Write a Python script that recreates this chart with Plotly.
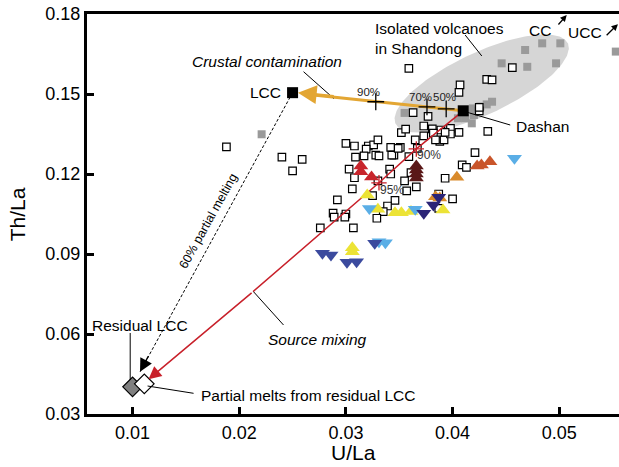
import numpy as np
import plotly.graph_objects as go

# ---------------- data ----------------
X_RANGE = [0.00573, 0.0556]
Y_RANGE = [0.03, 0.18]
X_TICKS = [0.01, 0.02, 0.03, 0.04, 0.05]
Y_TICKS = [0.03, 0.06, 0.09, 0.12, 0.15, 0.18]

open_u = [0.0359, 0.0456, 0.0432, 0.0437, 0.0407, 0.0406, 0.0363, 0.0377, 0.0425, 0.0425,
          0.0433, 0.0373, 0.0352, 0.0356, 0.0373, 0.0381, 0.0389, 0.0398, 0.0382, 0.0406,
          0.0388, 0.0392, 0.0398, 0.0384, 0.0421, 0.0342, 0.0351, 0.0345, 0.0300, 0.0308,
          0.0321, 0.0326, 0.0330, 0.0319, 0.0317, 0.0309, 0.0328, 0.0331, 0.0343, 0.0349,
          0.0359, 0.0367, 0.0365, 0.0303, 0.0341, 0.0342, 0.0308, 0.0330, 0.0355, 0.0306,
          0.0357, 0.0361, 0.0366, 0.0259, 0.0292, 0.0409, 0.0413, 0.0393, 0.0400, 0.0387,
          0.0387, 0.0346, 0.0339, 0.0335, 0.0329, 0.0325, 0.0288, 0.0289, 0.0300, 0.0299,
          0.0276, 0.0307, 0.0188, 0.0240, 0.0250, 0.0393]
open_th = [0.1596, 0.1599, 0.1555, 0.1553, 0.1534, 0.1506, 0.1430, 0.1416, 0.1437, 0.1450,
           0.1360, 0.1380, 0.1355, 0.1368, 0.1343, 0.1369, 0.1365, 0.1371, 0.1353, 0.1356,
           0.1322, 0.1328, 0.1350, 0.1328, 0.1280, 0.1300, 0.1300, 0.1271, 0.1315, 0.1305,
           0.1305, 0.1309, 0.1328, 0.1293, 0.1268, 0.1263, 0.1271, 0.1268, 0.1271, 0.1296,
           0.1265, 0.1296, 0.1328, 0.1218, 0.1218, 0.1200, 0.1186, 0.1174, 0.1174, 0.1144,
           0.1137, 0.1205, 0.1152, 0.1255, 0.1103, 0.1234, 0.1225, 0.1184, 0.1107, 0.1125,
           0.1071, 0.1101, 0.1080, 0.1059, 0.1034, 0.1119, 0.1053, 0.1038, 0.1050, 0.1038,
           0.0998, 0.0998, 0.1302, 0.1263, 0.1212, 0.1356]

gray_u = [0.0468, 0.0484, 0.0501, 0.0446, 0.0470, 0.0497, 0.0553, 0.0355, 0.0426, 0.0432,
          0.0437, 0.0419, 0.0420, 0.0412, 0.0405, 0.0418, 0.0221]
gray_th = [0.1665, 0.1690, 0.1690, 0.1615, 0.1602, 0.1615, 0.1659, 0.1429, 0.1453, 0.1461,
           0.1471, 0.1446, 0.1421, 0.1409, 0.1409, 0.1390, 0.1349]

red_up_u = [0.0314, 0.0314, 0.0324]
red_up_th = [0.1230, 0.1208, 0.1189]
maroon_up_u = [0.0366, 0.0366, 0.0366, 0.0366]
maroon_up_th = [0.1230, 0.1215, 0.1200, 0.1185]
sienna_up_u = [0.0423, 0.0427, 0.0435]
sienna_up_th = [0.1230, 0.1234, 0.1246]
orange_up_u = [0.0404, 0.0384, 0.0388]
orange_up_th = [0.1188, 0.1115, 0.1110]
yellow_up_u = [0.0320, 0.0330, 0.0346, 0.0352, 0.0361, 0.0391, 0.0306, 0.0306]
yellow_up_th = [0.1121, 0.1068, 0.1055, 0.1055, 0.1059, 0.1065, 0.0923, 0.0908]
lblue_dn_u = [0.0322, 0.0365, 0.0458, 0.0331, 0.0337]
lblue_dn_th = [0.1071, 0.1068, 0.1259, 0.0946, 0.0942]
navy_dn_u = [0.0373, 0.0382, 0.0387]
navy_dn_th = [0.1053, 0.1084, 0.1113]
blue_dn_u = [0.0327, 0.0278, 0.0286, 0.0301, 0.0310]
blue_dn_th = [0.0940, 0.0903, 0.0896, 0.0869, 0.0871]

LCC = (0.0250, 0.1505)
DASHAN = (0.0410, 0.1437)
RESIDUAL_LCC = (0.0100, 0.0402)
PARTIAL_MELT = (0.0111, 0.0413)

contam_u = [0.0328, 0.0376, 0.0394]     # 90 %, 70 %, 50 %
contam_th = [0.1471, 0.1452, 0.1444]
contam_lbl = ["90%", "70%", "50%"]
contam_lbl_u = [0.0321, 0.0370, 0.0392]
contam_lbl_th = [0.1508, 0.1488, 0.1488]

mix_u = [0.0410, 0.0366, 0.0331, 0.0257, 0.0213]
mix_th = [0.1437, 0.1294, 0.1167, 0.0909, 0.0759]
mix_tip = (0.0115, 0.0430)
mix_cross_u = [0.0366, 0.0331]
mix_cross_th = [0.1294, 0.1167]
mix_lbl = ["90%", "95%"]
mix_lbl_u = [0.0378, 0.0343]
mix_lbl_th = [0.1271, 0.1140]
melt_tip = (0.0107, 0.0458)

ELL_CENTER = (0.04273, 0.15394)

# ---------------- layout geometry ----------------
W, H = 619, 467
ML, MR, MT, MB = 87, 0, 14, 53
PW, PH = W - ML - MR, H - MT - MB
kx = PW / (X_RANGE[1] - X_RANGE[0])
ky = PH / (Y_RANGE[1] - Y_RANGE[0])

FONT = "Liberation Sans, Arial, Helvetica, sans-serif"
LBL = 15.5

fig = go.Figure()

# ellipse (semi axes in pixels, rotated)
t = np.linspace(0, 2 * np.pi, 200)
a_px, b_px, ang = 95, 31, np.deg2rad(25)
ex = a_px * np.cos(t) * np.cos(ang) - b_px * np.sin(t) * np.sin(ang)
ey = a_px * np.cos(t) * np.sin(ang) + b_px * np.sin(t) * np.cos(ang)
fig.add_trace(go.Scatter(x=ELL_CENTER[0] + ex / kx, y=ELL_CENTER[1] + ey / ky,
                         mode="lines", fill="toself", fillcolor="#d6d6d6",
                         line=dict(width=0), hoverinfo="skip"))

fig.add_trace(go.Scatter(x=gray_u, y=gray_th, mode="markers",
                         marker=dict(symbol="square", size=8, color="#9a9a9a", line=dict(width=0))))
fig.add_trace(go.Scatter(x=open_u, y=open_th, mode="markers",
                         marker=dict(symbol="square", size=7.5, color="white",
                                     line=dict(width=1.2, color="black"))))

# dashed partial melting line
fig.add_trace(go.Scatter(x=[LCC[0], melt_tip[0]], y=[LCC[1], melt_tip[1]], mode="lines",
                         line=dict(color="black", width=1, dash="3px,2px")))

# mixing curve
fig.add_trace(go.Scatter(x=mix_u, y=mix_th, mode="lines",
                         line=dict(color="#c8202a", width=1.5)))


def tri(u, th, color, sym):
    fig.add_trace(go.Scatter(x=u, y=th, mode="markers",
                             marker=dict(symbol=sym, size=13, color=color, line=dict(width=0))))


tri(red_up_u, red_up_th, "#c8252c", "triangle-up")
tri(maroon_up_u, maroon_up_th, "#5a1818", "triangle-up")
tri(sienna_up_u, sienna_up_th, "#c9552a", "triangle-up")
tri(orange_up_u, orange_up_th, "#d98a2b", "triangle-up")
tri(yellow_up_u, yellow_up_th, "#ece336", "triangle-up")
tri(lblue_dn_u, lblue_dn_th, "#5aaee6", "triangle-down")
tri(navy_dn_u, navy_dn_th, "#2b2477", "triangle-down")
tri(blue_dn_u, blue_dn_th, "#3b4a9e", "triangle-down")

# orange contamination line
fig.add_trace(go.Scatter(x=[DASHAN[0], LCC[0] + 0.0015], y=[DASHAN[1], LCC[1] - 0.00065],
                         mode="lines", line=dict(color="#e3a633", width=3)))

# crosses
fig.add_trace(go.Scatter(x=contam_u, y=contam_th, mode="markers",
                         marker=dict(symbol="cross-thin", size=12, line=dict(width=1.3, color="black"))))
fig.add_trace(go.Scatter(x=mix_cross_u, y=mix_cross_th, mode="markers",
                         marker=dict(symbol="cross-thin", size=11, line=dict(width=1.3, color="#c8202a"))))

# diamonds
fig.add_trace(go.Scatter(x=[RESIDUAL_LCC[0]], y=[RESIDUAL_LCC[1]], mode="markers",
                         marker=dict(symbol="diamond", size=15, color="#808080",
                                     line=dict(width=1.2, color="black"))))
fig.add_trace(go.Scatter(x=[PARTIAL_MELT[0]], y=[PARTIAL_MELT[1]], mode="markers",
                         marker=dict(symbol="diamond", size=15, color="white",
                                     line=dict(width=1.2, color="black"))))

# end member squares
fig.add_trace(go.Scatter(x=[LCC[0], DASHAN[0]], y=[LCC[1], DASHAN[1]], mode="markers",
                         marker=dict(symbol="square", size=11, color="black")))

ann = []
# arrowheads
ann.append(dict(x=LCC[0] + 0.0005, y=LCC[1], ax=LCC[0] + 0.004, ay=LCC[1] - 0.0015,
                axref="x", ayref="y", xref="x", yref="y", text="", showarrow=True,
                arrowhead=2, arrowsize=1.25, arrowwidth=3, arrowcolor="#e3a633", standoff=0))
ann.append(dict(x=mix_tip[0], y=mix_tip[1], ax=mix_u[-1], ay=mix_th[-1],
                axref="x", ayref="y", xref="x", yref="y", text="", showarrow=True,
                arrowhead=2, arrowsize=1.7, arrowwidth=1.5, arrowcolor="#c8202a", standoff=0))
ann.append(dict(x=melt_tip[0], y=melt_tip[1], ax=9, ay=-17, xref="x", yref="y", text="",
                showarrow=True, arrowhead=2, arrowsize=2.0, arrowwidth=1.3, arrowcolor="black",
                standoff=0))
# CC / UCC arrows
ann.append(dict(x=0.0507, y=0.1796, ax=0.0498, ay=0.1755, axref="x", ayref="y", xref="x", yref="y",
                text="", showarrow=True, arrowhead=2, arrowsize=1, arrowwidth=1.3, arrowcolor="black"))
ann.append(dict(x=0.0555, y=0.1762, ax=0.0543, ay=0.1715, axref="x", ayref="y", xref="x", yref="y",
                text="", showarrow=True, arrowhead=2, arrowsize=1, arrowwidth=1.3, arrowcolor="black"))


def txt(x, y, s, size=LBL, xa="center", ya="middle", italic=False, color="black", angle=0, align="center"):
    ann.append(dict(x=x, y=y, xref="x", yref="y", text=s, showarrow=False, xanchor=xa, yanchor=ya,
                    textangle=angle, align=align,
                    font=dict(family=FONT, size=size, color=color,
                              style="italic" if italic else "normal")))


txt(0.03256, 0.1708, "Isolated volcanoes<br>in Shandong", xa="left", align="left")
txt(0.0482, 0.1740, "CC")
txt(0.0524, 0.1729, "UCC")
txt(0.0226, 0.1621, "Crustal contamination", italic=True)
txt(0.0241, 0.1505, "LCC", xa="right")
txt(0.0458, 0.1380, "Dashan", xa="left")
txt(0.01067, 0.0633, "Residual LCC")
txt(0.0162, 0.0371, "Partial melts from residual LCC", xa="left")
txt(0.0273, 0.0578, "Source mixing", italic=True)
txt(0.0171, 0.1024, "60% partial melting", size=12.5, angle=-61)
for u, th, s in zip(contam_lbl_u, contam_lbl_th, contam_lbl):
    txt(u, th, s, size=11.5, color="#222222")
for u, th, s in zip(mix_lbl_u, mix_lbl_th, mix_lbl):
    txt(u, th, s, size=12, color="#333333")

# axis titles
ann.append(dict(x=-0.131, y=0.5, xref="paper", yref="paper", text="Th/La", textangle=-90,
                xanchor="center", yanchor="middle",
                showarrow=False, font=dict(family=FONT, size=21, color="black")))
ann.append(dict(x=0.5, y=-0.095, xref="paper", yref="paper", text="U/La",
                xanchor="center", yanchor="middle",
                showarrow=False, font=dict(family=FONT, size=21, color="black")))

# leader lines
leaders = [
    ((0.04118, 0.17212), (0.04274, 0.16425)),
    ((0.02603, 0.15836), (0.02884, 0.14839)),
    ((0.04118, 0.14336), (0.04540, 0.13838)),
    ((0.00978, 0.06038), (0.00978, 0.04275)),
    ((0.01141, 0.04050), (0.01572, 0.03776)),
    ((0.02134, 0.07586), (0.02415, 0.06338)),
]
shapes = [dict(type="line", xref="x", yref="y", x0=p[0], y0=p[1], x1=q[0], y1=q[1],
               line=dict(color="black", width=1)) for p, q in leaders]

fig.update_layout(
    width=W, height=H, margin=dict(l=ML, r=MR, t=MT, b=MB),
    paper_bgcolor="white", plot_bgcolor="white", showlegend=False,
    annotations=ann, shapes=shapes,
    font=dict(family=FONT, size=18, color="black"),
)
fig.update_xaxes(range=X_RANGE, tickvals=X_TICKS, ticktext=[f"{v:.2f}" for v in X_TICKS],
                 ticks="inside", ticklen=7, tickwidth=2.5, tickcolor="black",
                 showline=True, linewidth=3, linecolor="black", mirror=True,
                 showgrid=False, zeroline=False, tickfont=dict(size=18))
fig.update_yaxes(range=Y_RANGE, tickvals=Y_TICKS, ticktext=[f"{v:.2f}" for v in Y_TICKS],
                 ticks="inside", ticklen=7, tickwidth=2.5, tickcolor="black",
                 showline=True, linewidth=3, linecolor="black", mirror=False,
                 showgrid=False, zeroline=False, tickfont=dict(size=18))

fig.write_html("out.html")
